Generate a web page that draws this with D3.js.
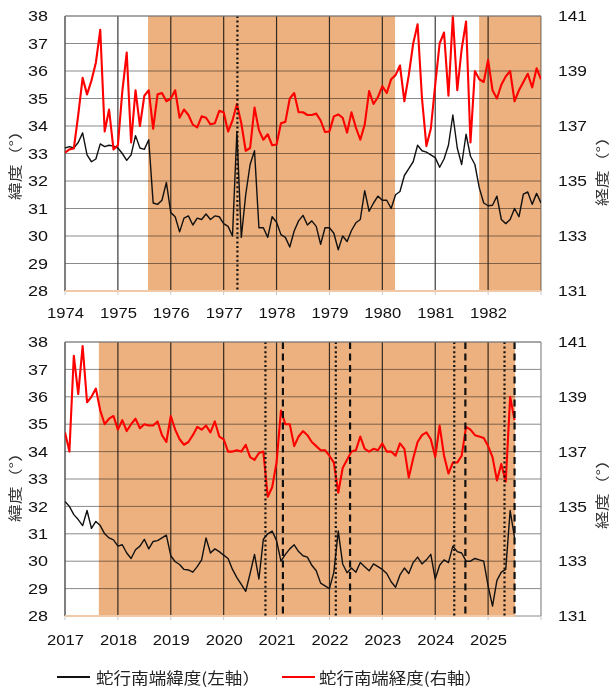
<!DOCTYPE html>
<html>
<head>
<meta charset="utf-8">
<script src="https://cdn.jsdelivr.net/npm/d3@7"></script>
<style>
  body { margin: 0; background: #fff; }
  svg { display: block; }
  .shade { mix-blend-mode: multiply; }
</style>
</head>
<body>
<svg id="chart" width="611" height="691"></svg>
<script>
// Monthly series of the Kuroshio meander's southern tip, first month of each panel
const topStart = 1974;
const bottomStart = 2017;

// 1974-1982: latitude (left axis, °N)
const topLat = [
  33.2, 33.25, 33.2, 33.4, 33.75, 32.95, 32.7, 32.8, 33.35, 33.25, 33.3, 33.27,
  33.2, 33.0, 32.75, 32.95, 33.65, 33.2, 33.15, 33.5, 31.2, 31.15, 31.3, 31.95,
  30.85, 30.7, 30.15, 30.65, 30.73, 30.4, 30.65, 30.6, 30.8, 30.6, 30.73, 30.7,
  30.45, 30.35, 30.0, 33.8, 29.95, 31.5, 32.6, 33.1, 30.3, 30.3, 29.95, 30.7,
  30.5, 30.05, 29.95, 29.6, 30.18, 30.55, 30.75, 30.4, 30.55, 30.35, 29.7, 30.3,
  30.3, 30.1, 29.5, 30.0, 29.8, 30.2, 30.48, 30.6, 31.65, 30.9, 31.2, 31.45,
  31.3, 31.3, 31.0, 31.5, 31.62, 32.2, 32.45, 32.7, 33.3, 33.1, 33.05, 32.95,
  32.85, 32.5, 32.8, 33.3, 34.4, 33.2, 32.6, 33.7, 32.9, 32.6, 31.75, 31.2,
  31.1, 31.12, 31.45, 30.6, 30.45, 30.6, 31.0, 30.7, 31.52, 31.6, 31.15, 31.55, 31.2
];
// 1974-1982: longitude (right axis, °E)
const topLon = [
  136.03, 136.15, 136.18, 137.4, 138.75, 138.15, 138.65, 139.3, 140.5, 136.8, 137.6, 136.15,
  136.3, 138.25, 139.67, 136.4, 138.3, 137.0, 138.1, 138.3, 136.9, 138.15, 138.2, 137.9,
  138.0, 138.3, 137.3, 137.6, 137.4, 137.05, 136.95, 137.35, 137.3, 137.06, 137.1, 137.55,
  137.5, 136.8, 137.2, 137.8, 137.1, 136.1, 136.2, 137.67, 136.85, 136.5, 136.7, 136.3,
  136.33, 137.1, 137.15, 138.0, 138.2, 137.5, 137.5, 137.4, 137.4, 137.45, 137.2, 136.78,
  136.8, 137.35, 137.42, 137.3, 136.76, 137.5, 136.94, 136.5, 137.05, 138.27, 137.8, 138.05,
  138.45, 138.2, 138.7, 138.85, 139.2, 137.9, 138.85, 140.0, 140.7, 138.0, 136.27, 136.9,
  138.5, 140.0, 140.4, 138.1, 141.0, 138.3, 139.8, 140.8, 136.4, 139.0, 138.7, 138.6,
  139.4, 138.3, 138.0, 138.5, 138.8, 139.0, 137.9, 138.3, 138.6, 138.9, 138.4, 139.1, 138.7
];
// 2017-2025: latitude (left axis, °N)
const bottomLat = [
  32.18, 32.0, 31.7, 31.52, 31.3, 31.85, 31.2, 31.45, 31.3, 31.0, 30.85, 30.78,
  30.55, 30.6, 30.3, 30.1, 30.42, 30.55, 30.8, 30.45, 30.72, 30.75, 30.85, 30.95,
  30.2, 29.98, 29.88, 29.7, 29.68, 29.6, 29.8, 30.05, 30.85, 30.3, 30.45, 30.35,
  30.22, 30.1, 29.7, 29.4, 29.15, 28.9, 29.55, 30.25, 29.35, 30.8, 31.0, 31.1,
  30.75, 30.0, 30.25, 30.45, 30.6, 30.35, 30.2, 30.15, 29.85, 29.65, 29.2, 29.1,
  29.0, 29.6, 31.1, 29.9, 29.58, 29.75, 29.6, 29.95, 29.8, 29.65, 29.9, 29.8,
  29.7, 29.55, 29.25, 29.05, 29.5, 29.75, 29.55, 29.95, 30.15, 29.9, 30.05, 30.25,
  29.35, 29.85, 30.05, 29.95, 30.55, 30.35, 30.3, 30.0, 30.0, 30.1, 30.05, 30.0,
  29.1, 28.36, 29.3, 29.6, 29.7, 31.85, 30.85
];
// 2017-2025: longitude (right axis, °E)
const bottomLon = [
  137.7, 137.0, 140.5, 139.1, 140.85, 138.8, 139.0, 139.3, 138.5, 138.0, 138.2, 138.3,
  137.8, 138.15, 137.75, 138.0, 138.2, 137.85, 138.0, 137.95, 137.95, 138.1, 137.6, 137.35,
  138.3, 137.8, 137.45, 137.25, 137.35, 137.6, 137.9, 137.8, 137.95, 137.7, 138.1, 137.55,
  137.45, 137.0, 137.0, 137.05, 137.0, 137.25, 136.8, 136.7, 136.95, 137.0, 135.35, 135.7,
  136.6, 138.5, 138.0, 138.0, 137.2, 137.55, 137.75, 137.6, 137.35, 137.2, 137.05, 137.05,
  136.85, 136.6, 135.5, 136.4, 136.7, 137.0, 137.05, 137.55, 137.1, 137.0, 137.1, 137.05,
  137.3, 137.0, 137.0, 136.85, 137.3, 137.1, 136.05, 136.75, 137.35, 137.6, 137.7, 137.45,
  136.8, 137.95, 136.85, 136.2, 136.6, 136.6, 136.85, 137.9, 137.8, 137.6, 137.55, 137.5,
  137.2, 136.8, 135.95, 136.55, 135.9, 139.0, 138.15
];

// Axis ticks
const topYears = [1974, 1975, 1976, 1977, 1978, 1979, 1980, 1981, 1982];
const bottomYears = [2017, 2018, 2019, 2020, 2021, 2022, 2023, 2024, 2025];
const latTicks = [28, 29, 30, 31, 32, 33, 34, 35, 36, 37, 38];
const lonTicks = [131, 133, 135, 137, 139, 141];

// Large-meander periods (shaded) and event markers
const topShades = [[1975.57, 1980.24], [1981.83, 1983.0]];
const bottomShades = [[2017.64, 2025.51]];
const topDotted = [1977.26];
const topDashed = [];
const bottomDotted = [2020.79, 2022.12, 2024.36, 2025.31];
const bottomDashed = [2021.12, 2022.39, 2024.57, 2025.5];

const latTitle = "緯度（°）";
const lonTitle = "経度（°）";
const legendLabels = ["蛇行南端緯度(左軸）", "蛇行南端経度(右軸）"];

const svg = d3.select("#chart");
const latinFont = "'Liberation Sans', Arial, sans-serif";
const cjkFont = "'Noto Sans CJK JP', sans-serif";
const shadeColor = "#EDB17F";

function drawPanel(cfg, idx) {
  const x0 = 65, x1 = 541;
  const x = d3.scaleLinear().domain([cfg.start, cfg.start + 9]).range([x0, x1]);
  const yLat = d3.scaleLinear().domain([28, 38]).range([cfg.y1, cfg.y0]);
  const yLon = d3.scaleLinear().domain([131, 141]).range([cfg.y1, cfg.y0]);
  const g = svg.append("g");

  g.append("defs").append("clipPath").attr("id", "clip" + idx)
    .append("rect").attr("x", x0).attr("y", cfg.y0 - 1)
    .attr("width", x1 - x0).attr("height", cfg.y1 - cfg.y0 + 2);

  // horizontal grid
  g.append("g").selectAll("line").data(latTicks).join("line")
    .attr("x1", x0).attr("x2", x1)
    .attr("y1", d => yLat(d)).attr("y2", d => yLat(d))
    .attr("stroke", "#8a8a8a").attr("stroke-width", 1);

  // yearly vertical grid
  const yearLines = d3.range(cfg.start, cfg.start + 10);
  g.append("g").selectAll("line").data(yearLines).join("line")
    .attr("x1", d => x(d)).attr("x2", d => x(d))
    .attr("y1", cfg.y0).attr("y2", cfg.y1)
    .attr("stroke", (d, i) => (i === 0 ? "#555" : (i === 9 ? "#8a8a8a" : "#3a3a3a")))
    .attr("stroke-width", (d, i) => (i === 0 ? 1.5 : 1.2));

  // tick marks under the time axis
  g.append("g").selectAll("line").data(yearLines).join("line")
    .attr("x1", d => x(d)).attr("x2", d => x(d))
    .attr("y1", cfg.y1).attr("y2", cfg.y1 + 4)
    .attr("stroke", "#c8c8c8").attr("stroke-width", 1);

  // shaded meander periods, multiplied over the grid
  g.append("g").selectAll("rect").data(cfg.shades).join("rect")
    .attr("class", "shade")
    .attr("x", d => x(d[0])).attr("width", d => x(d[1]) - x(d[0]))
    .attr("y", cfg.y0).attr("height", cfg.y1 - cfg.y0)
    .attr("fill", shadeColor);

  // baseline strip under the unshaded part
  const lastShadeEnd = d3.max(cfg.shades, d => d[1]);
  g.append("line")
    .attr("x1", x(cfg.start)).attr("x2", x(lastShadeEnd))
    .attr("y1", cfg.y1).attr("y2", cfg.y1)
    .attr("stroke", "#F2C9A6").attr("stroke-width", 2);

  // series
  const toPoints = arr => arr.map((v, i) => ({ t: cfg.start + i / 12, v }));
  const plot = g.append("g").attr("clip-path", `url(#clip${idx})`);
  plot.append("path").datum(toPoints(cfg.lat))
    .attr("fill", "none").attr("stroke", "#111").attr("stroke-width", 1.4)
    .attr("stroke-linejoin", "round")
    .attr("d", d3.line().x(d => x(d.t)).y(d => yLat(d.v)));
  plot.append("path").datum(toPoints(cfg.lon))
    .attr("fill", "none").attr("stroke", "#ff0000").attr("stroke-width", 2.1)
    .attr("stroke-linejoin", "round")
    .attr("d", d3.line().x(d => x(d.t)).y(d => yLon(d.v)));

  // event markers
  g.append("g").selectAll("line").data(cfg.dotted).join("line")
    .attr("x1", d => x(d)).attr("x2", d => x(d))
    .attr("y1", cfg.y0).attr("y2", cfg.y1)
    .attr("stroke", "#111").attr("stroke-width", 2.2).attr("stroke-dasharray", "2,2.6");
  g.append("g").selectAll("line").data(cfg.dashed).join("line")
    .attr("x1", d => x(d)).attr("x2", d => x(d))
    .attr("y1", cfg.y0).attr("y2", cfg.y1)
    .attr("stroke", "#111").attr("stroke-width", 2.2).attr("stroke-dasharray", "7,4.5");

  // frame top and right
  g.append("line").attr("x1", x0).attr("x2", x1).attr("y1", cfg.y0).attr("y2", cfg.y0)
    .attr("stroke", "#8a8a8a");

  // axes
  const styleAxis = (sel, len) => {
    sel.select(".domain").remove();
    sel.selectAll(".tick line").remove();
    sel.selectAll("text")
      .attr("font-family", latinFont).attr("font-size", 14.5).attr("fill", "#111")
      .attr("textLength", t => len(t)).attr("lengthAdjust", "spacingAndGlyphs");
  };
  g.append("g").attr("transform", `translate(${x0},0)`)
    .call(d3.axisLeft(yLat).tickValues(latTicks).tickSize(0).tickPadding(17))
    .call(s => styleAxis(s, () => 20));
  g.append("g").attr("transform", `translate(${x1},0)`)
    .call(d3.axisRight(yLon).tickValues(lonTicks).tickSize(0).tickPadding(17))
    .call(s => styleAxis(s, () => 29));
  g.append("g").attr("transform", `translate(0,${cfg.y1})`)
    .call(d3.axisBottom(x).tickValues(cfg.years).tickFormat(d3.format("d"))
      .tickSize(0).tickPadding(cfg.yearPad))
    .call(s => styleAxis(s, () => 37));

  // axis titles
  g.append("text")
    .attr("transform", `translate(14,${cfg.leftTitleY}) rotate(-90)`)
    .attr("text-anchor", "middle").attr("dominant-baseline", "central")
    .attr("font-family", cjkFont).attr("font-size", 14).attr("fill", "#333")
    .attr("textLength", 78).attr("lengthAdjust", "spacingAndGlyphs")
    .text(latTitle);
  g.append("text")
    .attr("transform", `translate(601,${cfg.rightTitleY}) rotate(-90)`)
    .attr("text-anchor", "middle").attr("dominant-baseline", "central")
    .attr("font-family", cjkFont).attr("font-size", 14).attr("fill", "#333")
    .attr("textLength", 78).attr("lengthAdjust", "spacingAndGlyphs")
    .text(lonTitle);
}

drawPanel({
  start: topStart, y0: 16, y1: 291, lat: topLat, lon: topLon, years: topYears,
  shades: topShades, dotted: topDotted, dashed: topDashed, yearPad: 17,
  leftTitleY: 161, rightTitleY: 167
}, 0);
drawPanel({
  start: bottomStart, y0: 342, y1: 616, lat: bottomLat, lon: bottomLon, years: bottomYears,
  shades: bottomShades, dotted: bottomDotted, dashed: bottomDashed, yearPad: 19,
  leftTitleY: 483, rightTitleY: 490
}, 1);

// legend
const legend = svg.append("g");
const legendItems = [
  { label: legendLabels[0], color: "#111", lx: 57, tx: 96, w: 164 },
  { label: legendLabels[1], color: "#ff0000", lx: 282, tx: 319, w: 163 }
];
legendItems.forEach(it => {
  legend.append("line").attr("x1", it.lx).attr("x2", it.lx + 33)
    .attr("y1", 677).attr("y2", 677).attr("stroke", it.color).attr("stroke-width", 2.2);
  legend.append("text").attr("x", it.tx).attr("y", 677)
    .attr("dominant-baseline", "central")
    .attr("font-family", cjkFont).attr("font-size", 15.5).attr("fill", "#222")
    .attr("textLength", it.w).attr("lengthAdjust", "spacingAndGlyphs")
    .text(it.label);
});
</script>
</body>
</html>
